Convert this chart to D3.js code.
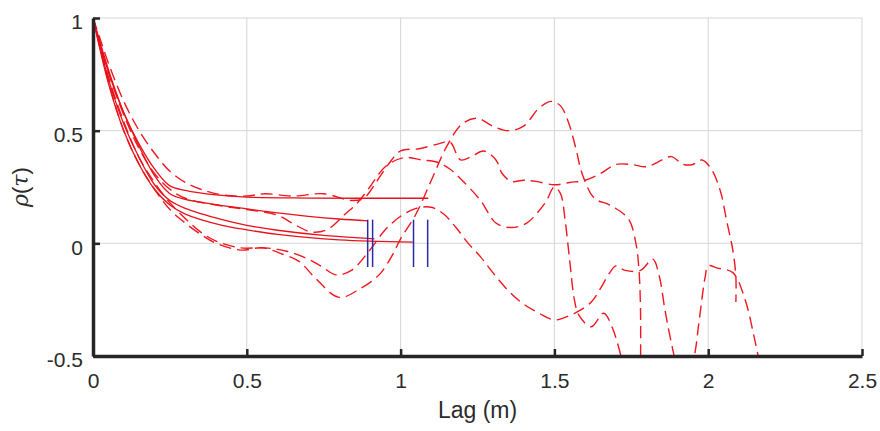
<!DOCTYPE html>
<html>
<head>
<meta charset="utf-8">
<script src="https://cdn.jsdelivr.net/npm/d3@7"></script>
<style>
  body { margin: 0; background: #fff; }
  svg { display: block; font-family: "Liberation Sans", Arial, sans-serif; }
  .grid line { stroke: #d6d6d6; stroke-width: 1; }
  .axis path, .axis line { stroke: #262626; }
  .axis path { stroke-width: 3.5; }
  .axis line { stroke-width: 2.5; }
  .axis text { fill: #2b2b2b; font-size: 21px; }
  .axis-title { fill: #2b2b2b; }
</style>
</head>
<body>
<div id="chart"></div>
<script>
// ticks
const xTicks = [0, 0.5, 1, 1.5, 2, 2.5];
const yTicks = [-0.5, 0, 0.5, 1];
const xTickLabels = ['0', '0.5', '1', '1.5', '2', '2.5'];
const yTickLabels = ['-0.5', '0', '0.5', '1'];

const empTop = [[0,1],[0.02,0.92],[0.05,0.8],[0.1,0.63],[0.15,0.5],[0.2,0.4],[0.25,0.32],[0.3,0.27],[0.35,0.24],
  [0.42,0.215],[0.5,0.21],[0.56,0.22],[0.65,0.21],[0.75,0.22],[0.84,0.19],[0.88,0.2],[0.92,0.27],[0.96,0.35],
  [1.0,0.41],[1.06,0.42],[1.12,0.44],[1.16,0.45],[1.195,0.37],[1.23,0.385],[1.27,0.41],[1.31,0.37],[1.33,0.31],
  [1.36,0.275],[1.4,0.28],[1.44,0.275],[1.5,0.26],[1.55,0.27],[1.6,0.28],[1.65,0.31],[1.7,0.35],[1.75,0.35],
  [1.8,0.34],[1.85,0.37],[1.88,0.385],[1.92,0.35],[1.95,0.35],[1.98,0.37],[2.01,0.33],[2.04,0.23],[2.06,0.1],
  [2.08,-0.03],[2.09,-0.15],[2.09,-0.26]];

const empRise = [[0,1],[0.05,0.76],[0.1,0.57],[0.15,0.42],[0.2,0.31],[0.25,0.24],[0.3,0.2],[0.4,0.17],[0.5,0.15],
  [0.6,0.125],[0.66,0.08],[0.71,0.05],[0.76,0.06],[0.82,0.13],[0.86,0.18],[0.9,0.25],[0.95,0.34],[1.01,0.38],
  [1.07,0.37],[1.12,0.36],[1.16,0.33],[1.2,0.28],[1.26,0.19],[1.31,0.09],[1.36,0.07],[1.41,0.09],[1.47,0.18],
  [1.5,0.25],[1.52,0.22],[1.535,0.1],[1.55,-0.08],[1.565,-0.25],[1.58,-0.32],[1.62,-0.37],[1.66,-0.31],
  [1.69,-0.38],[1.72,-0.52]];

const empMid = [[0,1],[0.05,0.74],[0.1,0.54],[0.15,0.38],[0.2,0.27],[0.25,0.18],[0.3,0.11],[0.35,0.05],[0.4,0.01],
  [0.48,-0.02],[0.56,-0.02],[0.63,-0.035],[0.7,-0.07],[0.74,-0.1],[0.79,-0.14],[0.84,-0.12],[0.9,-0.03],
  [0.95,0.06],[1.0,0.12],[1.05,0.155],[1.1,0.16],[1.14,0.13],[1.18,0.07],[1.22,0.0],[1.26,-0.06],[1.3,-0.13],
  [1.35,-0.21],[1.4,-0.27],[1.45,-0.31],[1.5,-0.34],[1.55,-0.32],[1.58,-0.3],[1.62,-0.26],[1.65,-0.2],
  [1.68,-0.13],[1.7,-0.1],[1.73,-0.12],[1.78,-0.12],[1.82,-0.07],[1.84,-0.14],[1.86,-0.3],[1.88,-0.44],
  [1.9,-0.55],[1.93,-0.62],[1.955,-0.5],[1.97,-0.35],[1.99,-0.15],[2.0,-0.1],[2.03,-0.11],[2.08,-0.13],
  [2.12,-0.25],[2.15,-0.42],[2.17,-0.55]];

const empLow = [[0,1],[0.05,0.72],[0.1,0.5],[0.15,0.35],[0.2,0.24],[0.25,0.15],[0.3,0.09],[0.35,0.04],[0.4,0.0],
  [0.48,-0.03],[0.55,-0.02],[0.62,-0.05],[0.67,-0.08],[0.72,-0.15],[0.8,-0.24],[0.87,-0.2],[0.93,-0.14],
  [0.97,-0.06],[1.0,0.02],[1.05,0.13],[1.1,0.28],[1.15,0.43],[1.2,0.53],[1.25,0.555],[1.3,0.52],[1.35,0.5],
  [1.4,0.52],[1.45,0.6],[1.49,0.63],[1.52,0.61],[1.545,0.54],[1.57,0.42],[1.59,0.31],[1.63,0.2],[1.68,0.17],
  [1.74,0.11],[1.765,0.0],[1.775,-0.12],[1.78,-0.3],[1.78,-0.55]];

// fitted models, each ends at its range
const fitA = [[0,1],[0.03,0.86],[0.06,0.73],[0.1,0.58],[0.15,0.44],[0.2,0.33],[0.25,0.255],[0.3,0.235],
  [0.4,0.215],[0.5,0.205],[0.7,0.201],[1.09,0.2]];
const fitB = [[0,1],[0.05,0.76],[0.1,0.58],[0.15,0.43],[0.2,0.3],[0.25,0.22],[0.3,0.195],[0.4,0.172],
  [0.5,0.153],[0.6,0.135],[0.7,0.12],[0.8,0.108],[0.893,0.1]];
const fitC = [[0,1],[0.05,0.73],[0.1,0.53],[0.15,0.38],[0.2,0.26],[0.25,0.19],[0.3,0.155],[0.42,0.105],
  [0.5,0.08],[0.6,0.058],[0.75,0.035],[0.915,0.02]];
const fitD = [[0,1],[0.05,0.71],[0.1,0.5],[0.15,0.35],[0.2,0.24],[0.25,0.17],[0.3,0.13],[0.42,0.08],
  [0.5,0.06],[0.6,0.04],[0.8,0.015],[1.04,0.005]];

// range markers (lag, m) and their rho extent
const rangeLags = [0.893, 0.909, 1.042, 1.088];
const rangeRho = [-0.105, 0.105];

const empirical = [empTop, empRise, empMid, empLow];
const fits = [fitA, fitB, fitC, fitD];

class CorrPlot {
  constructor(_config) {
    this.config = {
      parentElement: _config.parentElement,
      containerWidth: 880,
      containerHeight: 431,
      margin: { top: 18, right: 18, bottom: 75, left: 93 }
    };
    this.initVis();
  }

  initVis() {
    let vis = this;
    vis.width = vis.config.containerWidth - vis.config.margin.left - vis.config.margin.right;
    vis.height = vis.config.containerHeight - vis.config.margin.top - vis.config.margin.bottom;

    vis.xScale = d3.scaleLinear().domain([0, 2.5]).range([0, vis.width]);
    vis.yScale = d3.scaleLinear().domain([-0.5, 1]).range([vis.height, 0]);

    vis.svg = d3.select(vis.config.parentElement).append('svg')
      .attr('width', vis.config.containerWidth)
      .attr('height', vis.config.containerHeight);

    vis.chartArea = vis.svg.append('g')
      .attr('transform', `translate(${vis.config.margin.left},${vis.config.margin.top})`);

    vis.chartArea.append('defs').append('clipPath')
      .attr('id', 'plot-mask')
      .append('rect')
      .attr('x', 0).attr('y', -3)
      .attr('width', vis.width).attr('height', vis.height + 3);

    // grid
    const grid = vis.chartArea.append('g').attr('class', 'grid');
    grid.selectAll('.gx').data(xTicks).join('line')
      .attr('x1', d => vis.xScale(d)).attr('x2', d => vis.xScale(d))
      .attr('y1', 0).attr('y2', vis.height);
    grid.selectAll('.gy').data(yTicks).join('line')
      .attr('x1', 0).attr('x2', vis.width)
      .attr('y1', d => vis.yScale(d)).attr('y2', d => vis.yScale(d));

    vis.chart = vis.chartArea.append('g').attr('clip-path', 'url(#plot-mask)');

    vis.xAxis = d3.axisBottom(vis.xScale)
      .tickValues(xTicks)
      .tickFormat((d, i) => xTickLabels[i])
      .tickSizeInner(-7).tickSizeOuter(0)
      .tickPadding(17);
    vis.yAxis = d3.axisLeft(vis.yScale)
      .tickValues(yTicks)
      .tickFormat((d, i) => yTickLabels[i])
      .tickSizeInner(-7).tickSizeOuter(0)
      .tickPadding(10);

    vis.xAxisG = vis.chartArea.append('g')
      .attr('class', 'axis x-axis')
      .attr('transform', `translate(0,${vis.height})`);
    vis.yAxisG = vis.chartArea.append('g').attr('class', 'axis y-axis');

    vis.chartArea.append('text')
      .attr('class', 'axis-title')
      .attr('x', vis.width / 2)
      .attr('y', vis.height + 62)
      .style('text-anchor', 'middle')
      .style('font-size', '23px')
      .text('Lag (m)');

    const yt = vis.chartArea.append('text')
      .attr('class', 'axis-title')
      .attr('transform', `translate(${-65},${vis.height / 2}) rotate(-90)`)
      .style('text-anchor', 'middle')
      .style('font-size', '22px');
    yt.append('tspan').style('font-style', 'italic').style('font-family', '"DejaVu Serif", serif').text('ρ');
    yt.append('tspan').text('(');
    yt.append('tspan').style('font-style', 'italic').style('font-family', '"DejaVu Serif", serif').text('τ');
    yt.append('tspan').text(')');

    vis.renderVis();
  }

  renderVis() {
    let vis = this;
    const line = d3.line()
      .x(d => vis.xScale(d[0]))
      .y(d => vis.yScale(d[1]))
      .curve(d3.curveCatmullRom.alpha(0.5));

    vis.chart.selectAll('.emp')
      .data(empirical)
      .join('path')
      .attr('class', 'emp')
      .attr('d', line)
      .attr('fill', 'none')
      .attr('stroke', '#f01820')
      .attr('stroke-width', 1.4)
      .attr('stroke-dasharray', '12,6');

    vis.chart.selectAll('.fit')
      .data(fits)
      .join('path')
      .attr('class', 'fit')
      .attr('d', line)
      .attr('fill', 'none')
      .attr('stroke', '#e8121a')
      .attr('stroke-width', 1.3);

    vis.chart.selectAll('.range')
      .data(rangeLags)
      .join('line')
      .attr('class', 'range')
      .attr('x1', d => vis.xScale(d)).attr('x2', d => vis.xScale(d))
      .attr('y1', vis.yScale(rangeRho[0])).attr('y2', vis.yScale(rangeRho[1]))
      .attr('stroke', '#2a2aa6')
      .attr('stroke-width', 1.5);

    vis.xAxisG.call(vis.xAxis);
    vis.yAxisG.call(vis.yAxis);
    vis.yAxisG.selectAll('text').attr('dy', '0.52em');
  }
}

new CorrPlot({ parentElement: '#chart' });
</script>
</body>
</html>
